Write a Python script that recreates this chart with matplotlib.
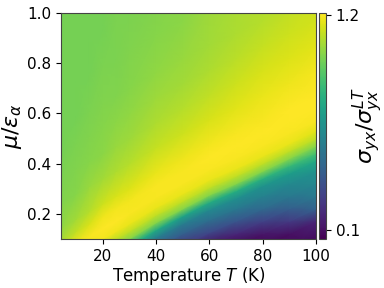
import numpy as np
import matplotlib
matplotlib.use("Agg")
import matplotlib.pyplot as plt

# Temperature columns (K)
T = [4.4, 10, 15, 20, 25, 30, 40, 50, 60, 70, 80, 90, 100]
# mu/eps_alpha position of the lower edge of the bright ridge, read per column
edge_mu = [-0.055, -0.02, 0.01, 0.04, 0.07, 0.10, 0.165, 0.22, 0.275, 0.32, 0.37, 0.42, 0.47]
# sample offsets in mu, measured from that edge (rows of the grid)
offsets = [-0.5, -0.4, -0.3, -0.25, -0.2, -0.15, -0.1, -0.06, -0.03,
           0.0, 0.03, 0.06, 0.1, 0.15, 0.2, 0.3, 0.4, 0.5, 0.6, 0.75, 0.9, 1.1]

# sigma_yx / sigma_yx^LT read along each temperature column (one value per offset row)
col_T04 = [0, 0, 0, 0.05, 0.12, 0.24, 0.42, 0.58, 0.77,
           1.00, 1.08, 1.13, 1.12, 1.06, 1.02, 0.99, 0.98, 0.97, 0.97, 0.97, 0.97, 0.97]
col_T10 = [0, 0, 0, 0.05, 0.12, 0.24, 0.42, 0.58, 0.77,
           1.00, 1.10, 1.16, 1.18, 1.10, 1.05, 1.00, 0.99, 0.98, 0.97, 0.97, 0.97, 0.97]
col_T15 = [0, 0, 0, 0.05, 0.12, 0.24, 0.42, 0.58, 0.77,
           1.00, 1.10, 1.17, 1.20, 1.14, 1.08, 1.03, 1.00, 0.99, 0.98, 0.97, 0.97, 0.97]
col_T20 = [0, 0, 0, 0.05, 0.12, 0.24, 0.42, 0.58, 0.77,
           1.00, 1.10, 1.19, 1.21, 1.18, 1.12, 1.05, 1.01, 1.00, 0.99, 0.98, 0.97, 0.97]
col_T25 = [0, 0, 0, 0.05, 0.12, 0.24, 0.42, 0.58, 0.77,
           1.00, 1.10, 1.18, 1.21, 1.19, 1.14, 1.07, 1.03, 1.01, 0.99, 0.98, 0.98, 0.98]
col_T30 = [0, 0, 0, 0.05, 0.12, 0.24, 0.42, 0.58, 0.77,
           1.00, 1.10, 1.17, 1.20, 1.19, 1.15, 1.08, 1.04, 1.02, 1.00, 0.99, 0.98, 0.98]
col_T40 = [0, 0, 0, 0, 0.05, 0.15, 0.38, 0.55, 0.75,
           1.00, 1.10, 1.17, 1.20, 1.20, 1.17, 1.11, 1.07, 1.04, 1.02, 1.00, 0.99, 0.99]
col_T50 = [0, 0, 0, 0, 0.04, 0.22, 0.40, 0.54, 0.72,
           1.00, 1.10, 1.17, 1.20, 1.20, 1.18, 1.12, 1.08, 1.05, 1.03, 1.01, 1.01, 1.01]
col_T60 = [0, 0, 0, 0, 0.10, 0.30, 0.47, 0.60, 0.76,
           1.00, 1.10, 1.17, 1.20, 1.21, 1.19, 1.14, 1.10, 1.07, 1.05, 1.04, 1.04, 1.04]
col_T70 = [0, 0, 0, 0.03, 0.18, 0.36, 0.52, 0.62, 0.77,
           1.00, 1.10, 1.17, 1.20, 1.21, 1.20, 1.16, 1.12, 1.09, 1.07, 1.06, 1.05, 1.05]
col_T80 = [0, 0, 0, 0.12, 0.28, 0.45, 0.56, 0.64, 0.79,
           1.00, 1.10, 1.17, 1.20, 1.21, 1.20, 1.17, 1.14, 1.11, 1.08, 1.07, 1.06, 1.06]
col_T90 = [0, 0, 0.10, 0.25, 0.40, 0.52, 0.60, 0.69, 0.83,
           1.00, 1.10, 1.17, 1.20, 1.21, 1.21, 1.18, 1.15, 1.12, 1.10, 1.09, 1.08, 1.08]
col_T100 = [0, 0, 0.18, 0.42, 0.53, 0.59, 0.65, 0.75, 0.87,
            1.00, 1.10, 1.16, 1.20, 1.21, 1.21, 1.19, 1.16, 1.13, 1.12, 1.11, 1.10, 1.10]

columns = [col_T04, col_T10, col_T15, col_T20, col_T25, col_T30, col_T40,
           col_T50, col_T60, col_T70, col_T80, col_T90, col_T100]
Z = np.array(columns).T  # (rows, columns)

x_range = (4.4, 100)
y_range = (0.1, 1.0)
cbar_ticks = [0.1, 1.2]
c_range = (0.054, 1.21)

# curvilinear grid: each column's sample positions follow the ridge
TT = np.tile(np.array(T), (len(offsets), 1))
MU = np.array(edge_mu)[None, :] + np.array(offsets)[:, None]

fig = plt.figure(figsize=(3.84, 2.88), dpi=100)
ax = fig.add_axes([0.1589, 0.1701, 0.8229 - 0.1589, 0.9549 - 0.1701])
cax = fig.add_axes([0.8315, 0.1701, 0.849 - 0.8315, 0.9549 - 0.1701])

mesh = ax.pcolormesh(TT, MU, Z, shading='gouraud', cmap='viridis',
                     vmin=c_range[0], vmax=c_range[1], rasterized=True)
ax.set_xlim(*x_range)
ax.set_ylim(*y_range)
ax.set_xticks([20, 40, 60, 80, 100])
ax.set_yticks([0.2, 0.4, 0.6, 0.8, 1.0])
ax.tick_params(labelsize=11)
ax.set_xlabel(r'Temperature $T$ (K)', fontsize=12, labelpad=1)
ax.set_ylabel(r'$\mu/\epsilon_\alpha$', fontsize=16, labelpad=2)
for s in ax.spines.values():
    s.set_color('#444444')

cb = fig.colorbar(mesh, cax=cax, ticks=cbar_ticks)
cb.ax.tick_params(labelsize=11)
cb.set_label(r'$\sigma_{yx}/\sigma_{yx}^{LT}$', fontsize=16, labelpad=-7)
cb.outline.set_edgecolor('#444444')

fig.savefig('out.png', dpi=100)
